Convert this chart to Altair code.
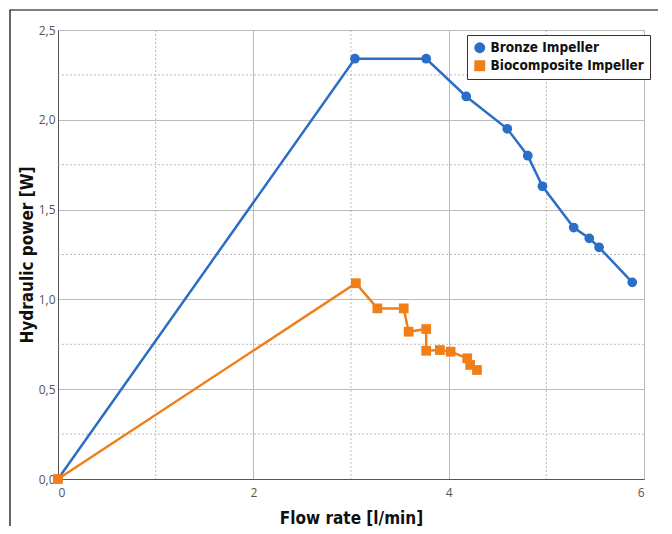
import altair as alt
import pandas as pd

bronze_x = [0.0, 3.04, 3.77, 4.18, 4.60, 4.81, 4.96, 5.28, 5.44, 5.54, 5.88]
bronze_y = [0.0, 2.34, 2.34, 2.13, 1.95, 1.80, 1.63, 1.40, 1.34, 1.29, 1.095]
bio_x = [0.0, 3.05, 3.27, 3.54, 3.59, 3.77, 3.77, 3.91, 4.02, 4.19, 4.22, 4.29]
bio_y = [0.0, 1.09, 0.95, 0.95, 0.82, 0.835, 0.714, 0.718, 0.709, 0.672, 0.635, 0.607]
series = ["Bronze Impeller", "Biocomposite Impeller"]
colors = ["#2a6ec6", "#f07f1a"]
shapes = ["circle", "square"]

x_major = [0, 2, 4, 6]
x_minor = [1, 3, 5]
y_major = [0.0, 0.5, 1.0, 1.5, 2.0, 2.5]
y_minor = [0.25, 0.75, 1.25, 1.75, 2.25]

rows = []
for i, (x, y) in enumerate(zip(bronze_x, bronze_y)):
    rows.append({"flow": x, "power": y, "series": series[0], "order": i})
for i, (x, y) in enumerate(zip(bio_x, bio_y)):
    rows.append({"flow": x, "power": y, "series": series[1], "order": i})
df = pd.DataFrame(rows)

W, H = 586, 449
TITLE_FONT = "'DejaVu Sans Condensed', 'Noto Sans', Roboto, sans-serif"
LABEL_FONT = "'Open Sans', sans-serif"

xs = alt.Scale(domain=[0, 6], nice=False)
ys = alt.Scale(domain=[0, 2.5], nice=False)
cs = alt.Scale(domain=series, range=colors)
ss = alt.Scale(domain=series, range=shapes)

xminor = alt.Chart(pd.DataFrame({"v": x_minor})).mark_rule(
    color="#aaaaaa", strokeDash=[2, 2], strokeWidth=0.8
).encode(x=alt.X("v:Q", scale=xs))
yminor = alt.Chart(pd.DataFrame({"v": y_minor})).mark_rule(
    color="#aaaaaa", strokeDash=[2, 2], strokeWidth=0.8
).encode(y=alt.Y("v:Q", scale=ys))

base = alt.Chart(df).encode(
    x=alt.X("flow:Q", scale=xs, title="Flow rate [l/min]",
            axis=alt.Axis(values=x_major, format="d", grid=True)),
    y=alt.Y("power:Q", scale=ys, title="Hydraulic power [W]",
            axis=alt.Axis(values=y_major, grid=True,
                          labelExpr="replace(format(datum.value, '.1f'), '.', ',')")),
    color=alt.Color("series:N", scale=cs, sort=series, title=None,
                    legend=alt.Legend(orient="none", legendX=409, legendY=5)),
    shape=alt.Shape("series:N", scale=ss, sort=series, title=None),
    order=alt.Order("order:Q"),
)
lines = base.mark_line(strokeWidth=2.5)
pts = base.mark_point(filled=True, size=95, opacity=1)

border = alt.Chart(pd.DataFrame({"a": [0]})).mark_rect(
    fill=None, stroke="#000000", strokeWidth=1.2
).encode(x=alt.value(-48), x2=alt.value(604), y=alt.value(-20), y2=alt.value(500))

chart = alt.layer(xminor, yminor, lines, pts, border).properties(
    width=W, height=H,
    autosize=alt.AutoSizeParams(type="none"),
    padding={"left": 50, "top": 22, "right": 14, "bottom": 47},
).configure_view(stroke="#777777", strokeWidth=1).configure_axis(
    domainColor="#555555", gridColor="#bbbbbb", gridWidth=1,
    ticks=False,
    labelFont=LABEL_FONT, labelFontSize=12, labelColor="#555555",
    titleFont=TITLE_FONT, titleFontSize=17, titleFontWeight="bold", titleColor="#111111",
).configure_axisX(titlePadding=12, labelPadding=8).configure_axisY(
    titlePadding=2, labelPadding=3
).configure_legend(
    strokeColor="#333333", fillColor="white", padding=6, cornerRadius=0,
    labelFont=TITLE_FONT, labelFontSize=13.5, labelFontWeight="bold", labelColor="#111111",
    labelLimit=400, symbolSize=120, symbolStrokeWidth=0, rowPadding=3,
)

chart.save("out.html", embed_options={"renderer": "svg", "actions": False})
